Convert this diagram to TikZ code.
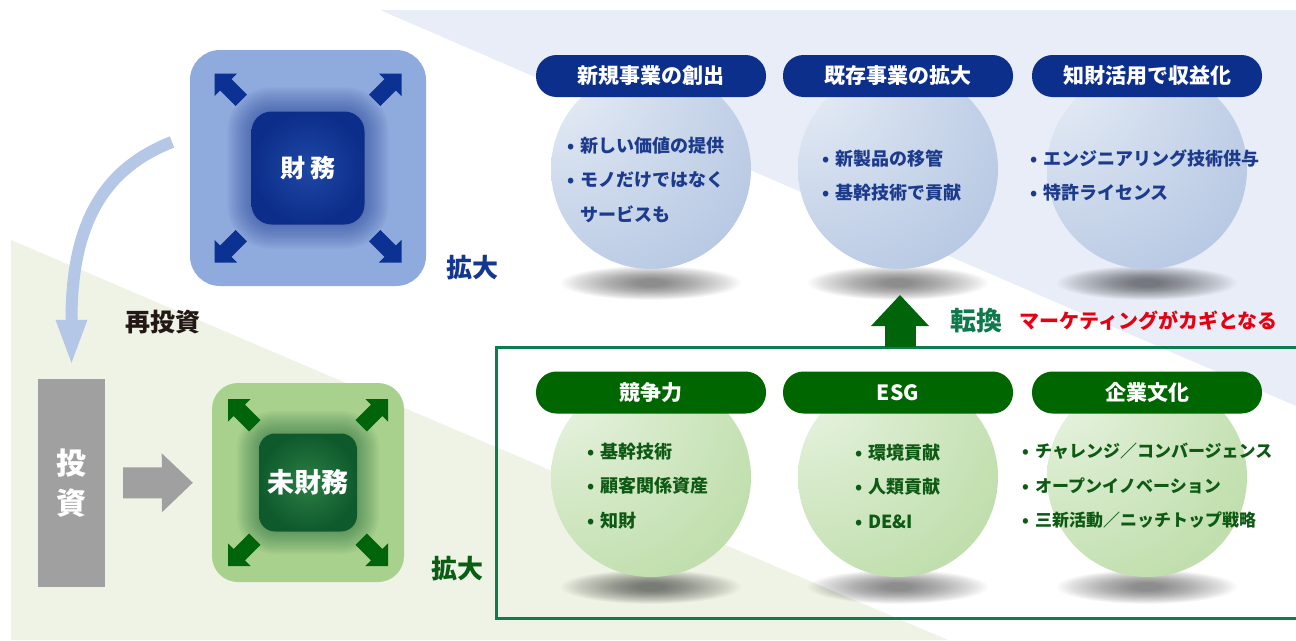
\documentclass[tikz,border=0pt]{standalone}
\usepackage{fontspec}
\setmainfont{Noto Sans CJK JP}
\usetikzlibrary{arrows.meta, calc}

\definecolor{bluebg}{HTML}{E8EDF7}
\definecolor{greenbg}{HTML}{EEF3E6}
\definecolor{finouter}{HTML}{8FAADC}
\definecolor{fincoreA}{HTML}{0D2D8A}
\definecolor{fincoreB}{HTML}{1E48A4}
\definecolor{finarrow}{HTML}{0B3292}
\definecolor{bluelabel}{HTML}{14378F}
\definecolor{nfouter}{HTML}{A9D18E}
\definecolor{nfcoreA}{HTML}{0E5A2C}
\definecolor{nfcoreB}{HTML}{2C7E44}
\definecolor{nfarrow}{HTML}{00640A}
\definecolor{greenlabel}{HTML}{0A5E14}
\definecolor{investgray}{HTML}{A0A0A0}
\definecolor{reinvest}{HTML}{B4C7E7}
\definecolor{pillblue}{HTML}{0C2F8C}
\definecolor{pillgreen}{HTML}{006600}
\definecolor{bluetext}{HTML}{1D3B8C}
\definecolor{greentext}{HTML}{0E5A14}
\definecolor{frameteal}{HTML}{0B7D4E}
\definecolor{turngreen}{HTML}{0E7A4C}
\definecolor{keyred}{HTML}{E60012}
\definecolor{labelblack}{HTML}{231815}
\definecolor{spbA}{HTML}{F1F4FA}
\definecolor{spbB}{HTML}{D3DEEE}
\definecolor{spbC}{HTML}{AFC2E0}
\definecolor{spbD}{HTML}{8DA6D1}
\definecolor{spgA}{HTML}{F2F8EE}
\definecolor{spgB}{HTML}{D8EBCC}
\definecolor{spgC}{HTML}{B7DAA1}
\definecolor{spgD}{HTML}{98C97A}

\pgfdeclareradialshading{bluesphere}{\pgfpoint{-30bp}{30bp}}{color(0bp)=(spbA); color(22bp)=(spbB); color(55bp)=(spbC); color(95bp)=(spbD)}
\pgfdeclareradialshading{greensphere}{\pgfpoint{-30bp}{30bp}}{color(0bp)=(spgA); color(22bp)=(spgB); color(55bp)=(spgC); color(95bp)=(spgD)}

\newcommand{\itemdot}{\makebox[13pt][l]{•}}
\newcommand{\itemgap}{\makebox[13pt]{}}

\tikzset{
  outerbox/.style={draw=none, inner sep=0pt},
  corebox/.style={inner sep=0pt, text=white, font=\bfseries\fontsize{25pt}{30pt}\selectfont},
  pill/.style={rounded corners=20.5pt, minimum width=230pt, minimum height=42pt, inner sep=0pt,
    text=white, font=\bfseries\fontsize{21pt}{24pt}\selectfont},
  sphere/.style={circle, minimum size=200pt, inner sep=0pt, shade},
  bullets/.style={anchor=west, align=left, inner sep=0pt, font=\bfseries\fontsize{18pt}{34.5pt}\selectfont},
  biglabel/.style={inner sep=0pt, font=\bfseries\fontsize{26pt}{30pt}\selectfont},
  pics/cornerarrow/.style={code={
    \fill[#1] (0,0) -- (-16,16) -- (-16,8) -- (-38,8) -- (-38,-8) -- (-16,-8) -- (-16,-16) -- cycle;}},
}

\begin{document}
\begin{tikzpicture}[x=1pt, y=1pt,
    reinvestarrow/.style={reinvest, line width=12pt, -{Triangle[width=32pt, length=43pt, line width=0pt]}},
    grayarrow/.style={investgray, line width=31pt, -{Triangle[width=59pt, length=31pt, line width=0pt]}},
    turnarrow/.style={nfarrow, line width=31pt, -{Triangle[width=58pt, length=31pt, line width=0pt]}},
    frameline/.style={frameteal, line width=3pt}]
  \useasboundingbox (0,0) rectangle (1296,-640);

  % Background bands
  \fill[bluebg] (380,-10) -- (1296,-10) -- (1296,-406) -- cycle;
  \fill[greenbg] (11,-240) -- (11,-640) -- (948,-640) -- cycle;

  % Frame round the lower row
  \draw[frameline] (1300,-347) -- (496,-347) -- (496,-618) -- (1300,-618);

  % Upper row: goals
  \foreach \i/\x/\lab in {1/651/新規事業の創出, 2/898/既存事業の拡大, 3/1147/知財活用で収益化}{
    \foreach \k in {0,...,29}
      \fill[black, opacity=0.018] (\x,-283) ellipse [x radius=90-2.6*\k, y radius=17-0.45*\k];
    \node[sphere, shading=bluesphere] (goalball\i) at (\x,-169) {};
    \node[pill, fill=pillblue] (goal\i) at (\x,-76) {\lab};
  }

  % Lower row: assets
  \foreach \i/\x/\lab in {1/651/競争力, 2/898/ESG, 3/1147/企業文化}{
    \foreach \k in {0,...,29}
      \fill[black, opacity=0.018] (\x,-587) ellipse [x radius=90-2.6*\k, y radius=17-0.45*\k];
    \node[sphere, shading=greensphere] (assetball\i) at (\x,-477) {};
    \node[pill, fill=pillgreen] (asset\i) at (\x,-392.5) {\lab};
  }

  % Bullet lists
  \node[bullets, text=bluetext] (goaltext1) at (567,-179.5)
    {\itemdot 新しい価値の提供\\\itemdot モノだけではなく\\\itemgap サービスも};
  \node[bullets, text=bluetext] (goaltext2) at (822,-175.5)
    {\itemdot 新製品の移管\\\itemdot 基幹技術で貢献};
  \node[bullets, text=bluetext] (goaltext3) at (1030,-175.5)
    {\itemdot エンジニアリング技術供与\\\itemdot 特許ライセンス};
  \node[bullets, text=greentext] (assettext1) at (587,-486)
    {\itemdot 基幹技術\\\itemdot 顧客関係資産\\\itemdot 知財};
  \node[bullets, text=greentext] (assettext2) at (855,-486)
    {\itemdot 環境貢献\\\itemdot 人類貢献\\\itemdot DE\&I};
  \node[bullets, text=greentext, font=\bfseries\fontsize{17pt}{34.5pt}\selectfont] (assettext3) at (1022,-486)
    {\itemdot チャレンジ／コンバージェンス\\\itemdot オープンイノベーション\\\itemdot 三新活動／ニッチトップ戦略};

  % Turn arrow and key message
  \coordinate (turnbase) at (900,-347);
  \coordinate (turntip) at (900,-295);
  \draw[turnarrow] (turnbase) -- (turntip);
  \node[biglabel, text=turngreen] (turn) at (976,-321) {転換};
  \node[inner sep=0pt, text=keyred, font=\bfseries\fontsize{20pt}{24pt}\selectfont] (key) at (1148.5,-321)
    {マーケティングがカギとなる};

  % Financial box
  \node[outerbox, fill=finouter, rounded corners=30pt, minimum size=236pt] (fin) at (308,-168) {};
  \foreach \g in {1,...,10}
    \fill[fincoreA, opacity=0.05, rounded corners=20pt+2.4pt*\g]
      ($(fin)+(-56.5-2.4*\g,-56.5-2.4*\g)$) rectangle ($(fin)+(56.5+2.4*\g,56.5+2.4*\g)$);
  \node[corebox, rounded corners=20pt, minimum size=113pt, inner color=fincoreB, outer color=fincoreA] (fincore) at (fin) {財\hspace{5pt}務};
  \foreach \a/\dx/\dy in {135/-1/1, 45/1/1, 225/-1/-1, -45/1/-1}
    \pic[rotate=\a] at ($(fin)+(93.5*\dx,94.5*\dy)$) {cornerarrow=finarrow};
  \node[biglabel, text=bluelabel] (fingrow) at (472,-268) {拡大};

  % Non-financial box
  \node[outerbox, fill=nfouter, rounded corners=26pt, minimum width=192pt, minimum height=199pt] (nonfin) at (308,-482.5) {};
  \foreach \g in {1,...,10}
    \fill[nfcoreA, opacity=0.05, rounded corners=16pt+2.2pt*\g]
      ($(nonfin)+(-49-2.2*\g,-49.5-2.2*\g)$) rectangle ($(nonfin)+(49+2.2*\g,49.5+2.2*\g)$);
  \node[corebox, rounded corners=16pt, minimum size=98pt, inner color=nfcoreB, outer color=nfcoreA,
    font=\bfseries\fontsize{27pt}{30pt}\selectfont] (nonfincore) at (nonfin) {未財務};
  \foreach \a/\dx/\dy in {135/-1/1, 45/1/1, 225/-1/-1, -45/1/-1}
    \pic[rotate=\a] at ($(nonfin)+(80*\dx,83.5*\dy)$) {cornerarrow=nfarrow};
  \node[biglabel, text=greenlabel] (nonfingrow) at (457,-569) {拡大};

  % Investment and reinvestment
  \node[fill=investgray, minimum width=67pt, minimum height=208pt, inner sep=0pt, text=white, align=center,
    font=\bfseries\fontsize{30pt}{40pt}\selectfont] (invest) at (71.5,-483) {投\\資};
  \draw[grayarrow, shorten <=18pt, shorten >=19pt] (invest) -- (nonfin);
  \coordinate (reinv) at (172,-142);
  \draw[reinvestarrow, shorten >=16pt] (reinv) .. controls +(-72,-28) and +(0,150) .. (invest.north);
  \node[biglabel, text=labelblack, font=\bfseries\fontsize{25pt}{30pt}\selectfont] (reinvlabel) at (163,-322) {再投資};
\end{tikzpicture}
\end{document}
